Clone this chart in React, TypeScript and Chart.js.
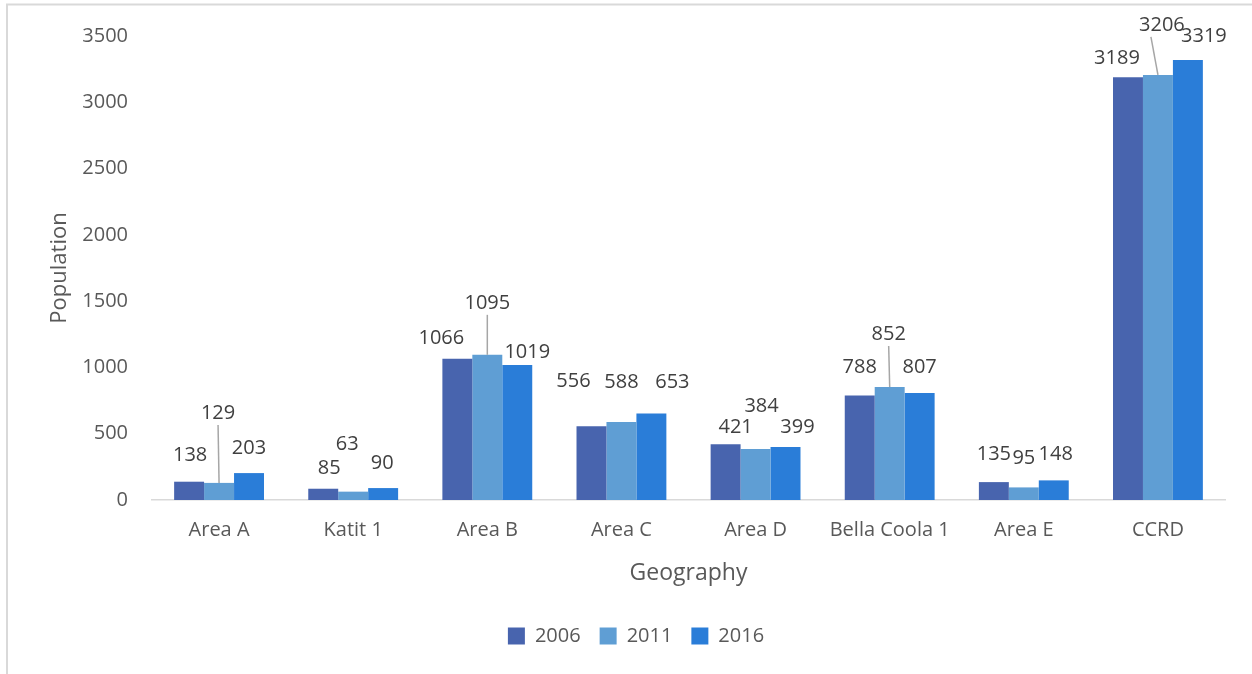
import React, { useEffect, useRef } from "react";
import { Chart, registerables } from "chart.js";

Chart.register(...registerables);

const categories = ["Area A", "Katit 1", "Area B", "Area C", "Area D", "Bella Coola 1", "Area E", "CCRD"];
const seriesNames = ["2006", "2011", "2016"];
const values2006 = [138, 85, 1066, 556, 421, 788, 135, 3189];
const values2011 = [129, 63, 1095, 588, 384, 852, 95, 3206];
const values2016 = [203, 90, 1019, 653, 399, 807, 148, 3319];
const yTicks = [0, 500, 1000, 1500, 2000, 2500, 3000, 3500];
const colors = ["#4864AE", "#5F9ED4", "#2A7DD8"];

// label placement tweaks: [dx, dy, leader, leaderStartDx]
const labelOffsets: [number, number, boolean, number][][] = [
  [[1, -8, false, 0], [6, -2, false, 0], [-16, -2, false, 0], [-18, -27, false, 0], [10, 1, false, 0], [0, -10, false, 0], [0, -10, false, 0], [-11, -1, false, 0]],
  [[-1, -52, true, 0], [-6, -29, false, 0], [0, -34, true, 0], [0, -22, false, 0], [6, -25, false, 0], [-1, -35, true, 0], [0, -11, false, 0], [4, -32, true, -11]],
  [[0, -7, false, 0], [-1, -7, false, 0], [10, 5, false, 0], [21, -13, false, 0], [12, -2, false, 0], [0, -8, false, 0], [2, -8, false, 0], [16, -6, false, 0]],
];

const FONT = "'Open Sans', sans-serif";

const labelPlugin = {
  id: "barLabels",
  afterDatasetsDraw(chart: any) {
    const ctx = chart.ctx;
    ctx.save();
    ctx.font = `20px ${FONT}`;
    ctx.fillStyle = "#404040";
    ctx.textAlign = "center";
    ctx.textBaseline = "middle";
    chart.data.datasets.forEach((ds: any, i: number) => {
      const meta = chart.getDatasetMeta(i);
      meta.data.forEach((el: any, j: number) => {
        const off = labelOffsets[i][j];
        const lx = el.x + off[0];
        const ly = el.y - 18 + off[1];
        if (off[2]) {
          ctx.strokeStyle = "#A6A6A6";
          ctx.lineWidth = 1.5;
          ctx.beginPath();
          ctx.moveTo(lx + off[3], ly + 12);
          ctx.lineTo(el.x, el.y);
          ctx.stroke();
        }
        ctx.fillText(String(ds.data[j]), lx, ly);
      });
    });
    ctx.restore();
  },
};

const borderPlugin = {
  id: "frame",
  beforeDraw(chart: any) {
    const ctx = chart.ctx;
    ctx.save();
    ctx.fillStyle = "#ffffff";
    ctx.fillRect(0, 0, chart.width, chart.height);
    ctx.strokeStyle = "#D9D9D9";
    ctx.lineWidth = 2;
    ctx.beginPath();
    ctx.moveTo(7, chart.height);
    ctx.lineTo(7, 4.5);
    ctx.lineTo(chart.width, 4.5);
    ctx.stroke();
    ctx.restore();
  },
};

export default function App() {
  const ref = useRef<HTMLCanvasElement>(null);
  useEffect(() => {
    document.body.style.margin = "0";
    const chart = new Chart(ref.current!, {
      type: "bar",
      data: {
        labels: categories,
        datasets: [values2006, values2011, values2016].map((d, i) => ({
          label: seriesNames[i],
          data: d,
          backgroundColor: colors[i],
          borderWidth: 0,
          categoryPercentage: 0.67,
          barPercentage: 1,
        })),
      },
      options: {
        animation: false,
        responsive: false,
        layout: { padding: { top: 31, right: 27, bottom: 18, left: 47 } },
        plugins: {
          legend: {
            position: "bottom",
            labels: {
              boxWidth: 17,
              boxHeight: 17,
              padding: 19,
              color: "#595959",
              font: { family: FONT, size: 20 },
            },
          },
          tooltip: { enabled: false },
        },
        scales: {
          x: {
            grid: { display: false, drawTicks: false },
            border: { display: true, color: "#D9D9D9", width: 1.5 },
            ticks: { color: "#595959", font: { family: FONT, size: 20 }, padding: 18 },
            title: {
              display: true,
              text: "Geography",
              color: "#595959",
              font: { family: FONT, size: 23 },
              padding: { top: 0, bottom: 20 },
            },
            afterFit: (s: any) => {
              s.height = 107;
            },
          },
          y: {
            min: 0,
            max: 3500,
            afterBuildTicks: (s: any) => {
              s.ticks = yTicks.map((v) => ({ value: v }));
            },
            grid: { display: false, drawTicks: false },
            border: { display: false },
            ticks: {
              color: "#595959",
              font: { family: FONT, size: 20 },
              padding: 24,
              callback: (v: any) => String(v),
            },
            title: {
              display: true,
              text: "Population",
              color: "#595959",
              font: { family: FONT, size: 22 },
              padding: { top: 0, bottom: 0 },
            },
            afterFit: (s: any) => {
              s.width = 105;
            },
          },
        },
      },
      plugins: [borderPlugin, labelPlugin],
    } as any);
    return () => chart.destroy();
  }, []);
  return (
    <div style={{ width: 1252, height: 674 }}>
      <canvas ref={ref} width={1252} height={674} style={{ display: "block" }} />
    </div>
  );
}
